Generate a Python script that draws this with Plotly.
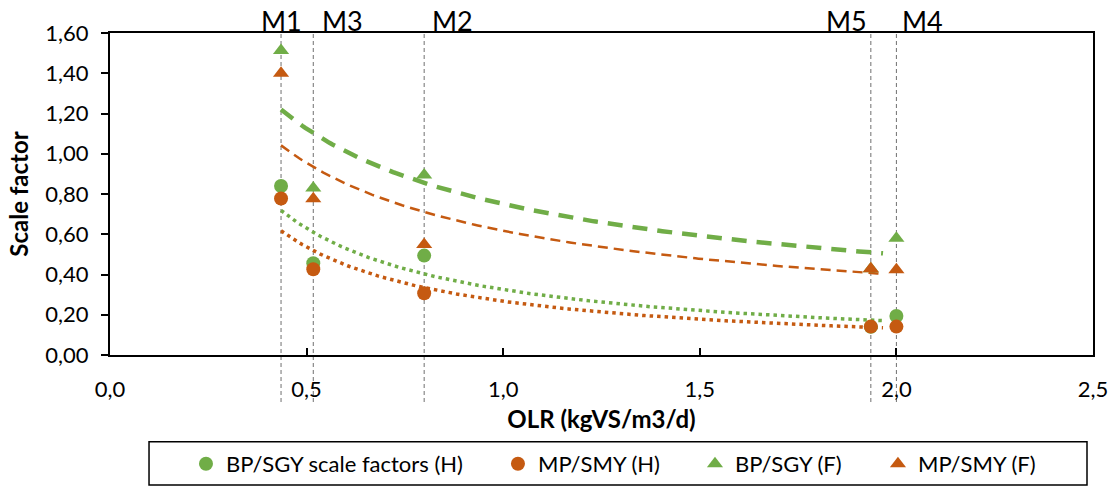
import numpy as np
import plotly.graph_objects as go

# Reactors and their organic loading rates (kgVS/m3/d)
reactor_labels = ["M1", "M3", "M2", "M5", "M4"]
olr = [0.435, 0.517, 0.799, 1.935, 2.0]

# Scale factors per reactor
bp_sgy_h = [0.84, 0.456, 0.494, 0.14, 0.194]
mp_smy_h = [0.778, 0.426, 0.307, 0.141, 0.141]
bp_sgy_f = [1.513, 0.830, 0.895, 0.428, 0.580]
mp_smy_f = [1.40, 0.777, 0.549, 0.428, 0.423]

# Power-law trendlines y = a * x^b, drawn over the fitted OLR span
trend_names = ["BP/SGY (F) trend", "MP/SMY (F) trend", "BP/SGY (H) trend", "MP/SMY (H) trend"]
trend_a = [0.750, 0.617, 0.325, 0.267]
trend_b = [-0.584, -0.629, -0.953, -1.007]
trend_span = [0.435, 1.966]

GREEN = "#70AD47"
ORANGE = "#C55A11"
FONT = "Lato"

fig = go.Figure()

# Trendlines
trend_styles = [
    dict(color=GREEN, width=4.5, dash="15px,10px"),
    dict(color=ORANGE, width=2.5, dash="10px,6px"),
    dict(color=GREEN, width=3.5, dash="3.5px,4px"),
    dict(color=ORANGE, width=3.5, dash="3.5px,4px"),
]
xs = np.linspace(trend_span[0], trend_span[1], 200)
for name, a, b, style in zip(trend_names, trend_a, trend_b, trend_styles):
    fig.add_trace(go.Scatter(
        x=xs, y=a * xs ** b, mode="lines", line=style,
        name=name, showlegend=False, hoverinfo="skip",
    ))

# Data points (triangles first so circles sit on top); each series gets its
# own legend box so the entries can be spaced out along the bottom frame
series = [
    ("BP/SGY (F)", bp_sgy_f, GREEN, "triangle-up", "legend3"),
    ("MP/SMY (F)", mp_smy_f, ORANGE, "triangle-up", "legend4"),
    ("BP/SGY scale factors (H)", bp_sgy_h, GREEN, "circle", "legend"),
    ("MP/SMY (H)", mp_smy_h, ORANGE, "circle", "legend2"),
]
for name, vals, color, symbol, leg in series:
    fig.add_trace(go.Scatter(
        x=olr, y=vals, mode="markers", name=name, legend=leg,
        marker=dict(color=color, symbol=symbol, size=14, line=dict(width=0)),
        cliponaxis=False,
    ))

# Reactor reference lines and labels
label_pos = {
    "M1": ("center", 0),
    "M3": ("left", 7),
    "M2": ("left", 6),
    "M5": ("right", -2),
    "M4": ("left", 4),
}
for lab, x in zip(reactor_labels, olr):
    fig.add_shape(
        type="line", xref="x", yref="paper", x0=x, x1=x, y0=-0.146, y1=1.0,
        line=dict(color="#6F6F6F", width=1, dash="4px,3px"), layer="below",
    )
    anchor, shift = label_pos[lab]
    fig.add_annotation(
        x=x, y=1.04, xref="x", yref="paper", text=lab, showarrow=False,
        xanchor=anchor, yanchor="middle", xshift=shift,
        font=dict(family=FONT, size=27, color="#000000"),
    )

# Legend frame
fig.add_shape(
    type="rect", xref="paper", yref="paper",
    x0=0.0397, x1=0.9939, y0=-0.404, y1=-0.2695,
    line=dict(color="#000000", width=1.5), fillcolor="rgba(0,0,0,0)",
)


def legend_box(x):
    return dict(
        orientation="h", xref="container", yref="container",
        x=x, xanchor="left", y=0.0453, yanchor="middle",
        font=dict(family=FONT, size=22, color="#000000"),
        bgcolor="rgba(0,0,0,0)", itemwidth=30, borderwidth=0,
    )


fig.update_layout(
    width=1115, height=486, autosize=False,
    margin=dict(l=110, r=22, t=33, b=131, autoexpand=False),
    paper_bgcolor="white", plot_bgcolor="white",
    separators=", ",
    font=dict(family=FONT, size=22, color="#000000"),
    showlegend=True,
    legend=legend_box(0.1668),
    legend2=legend_box(0.4466),
    legend3=legend_box(0.6233),
    legend4=legend_box(0.7874),
    xaxis=dict(
        range=[0, 2.5], dtick=0.5, tick0=0, tickformat=".1f", automargin=False,
        showline=True, linecolor="#000000", linewidth=2, mirror=True,
        ticks="inside", ticklen=7, tickwidth=1.5, tickcolor="#000000",
        showgrid=False, zeroline=False, ticklabelstandoff=14,
        tickfont=dict(family=FONT, size=22, color="#000000"),
        title=dict(text="<b>OLR (kgVS/m3/d)</b>", standoff=10,
                   font=dict(family=FONT, size=24, color="#000000")),
    ),
    yaxis=dict(
        range=[0, 1.6], dtick=0.2, tick0=0, tickformat=".2f", automargin=False,
        showline=True, linecolor="#000000", linewidth=2, mirror=True,
        ticks="outside", ticklen=7, tickwidth=1.5, tickcolor="#000000",
        showgrid=False, zeroline=False, ticklabelstandoff=8,
        tickfont=dict(family=FONT, size=22, color="#000000"),
        title=dict(text="<b>Scale factor</b>", standoff=10,
                   font=dict(family=FONT, size=24, color="#000000")),
    ),
)

fig.write_html("out.html")
